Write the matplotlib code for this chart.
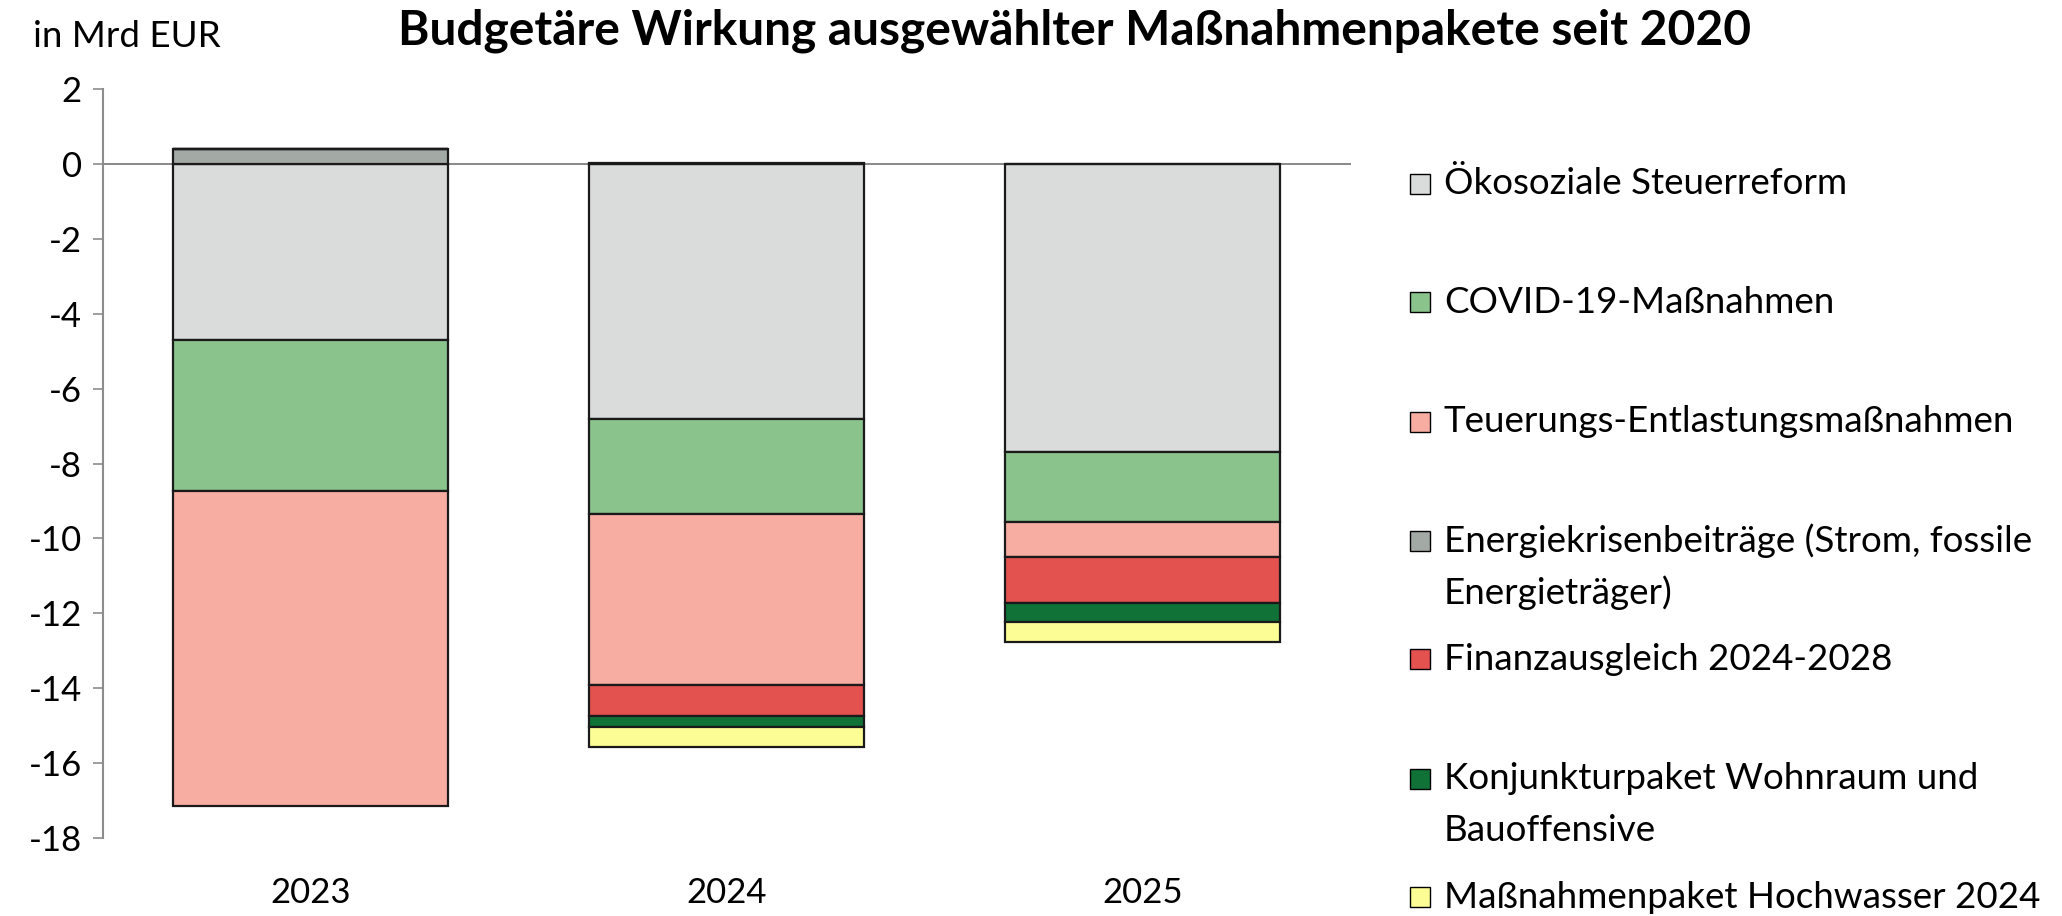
import matplotlib
matplotlib.use("Agg")
import matplotlib.pyplot as plt
from matplotlib.patches import Rectangle
import numpy as np

plt.rcParams['font.family'] = ['Lato', 'DejaVu Sans']

years = ["2023", "2024", "2025"]
series_names = [
    "Ökosoziale Steuerreform",
    "COVID-19-Maßnahmen",
    "Teuerungs-Entlastungsmaßnahmen",
    "Energiekrisenbeiträge (Strom, fossile\nEnergieträger)",
    "Finanzausgleich 2024-2028",
    "Konjunkturpaket Wohnraum und\nBauoffensive",
    "Maßnahmenpaket Hochwasser 2024",
]
oekosozial = [-4.69, -6.80, -7.69]
covid = [-4.05, -2.54, -1.86]
teuerung = [-8.42, -4.59, -0.95]
energiekrise = [0.42, 0.02, 0.0]
finanzausgleich = [0.0, -0.81, -1.24]
konjunktur = [0.0, -0.31, -0.49]
hochwasser = [0.0, -0.53, -0.55]

series = [oekosozial, covid, teuerung, energiekrise, finanzausgleich, konjunktur, hochwasser]
colors = ["#D9DCDB", "#8AC38B", "#F8ADA2", "#A3A9A5", "#E3524F", "#107236", "#FDFD96"]

fig = plt.figure(figsize=(20.62, 9.16), dpi=100)
ax = fig.add_axes([0.0498, 0.0855, 0.6052, 0.8169])

x = np.arange(len(years))
pos_bottom = np.zeros(len(years))
neg_bottom = np.zeros(len(years))
for vals, col in zip(series, colors):
    vals = np.array(vals)
    bottom = np.where(vals >= 0, pos_bottom, neg_bottom)
    ax.bar(x, vals, width=0.66, bottom=bottom, color=col,
           edgecolor="#1a1a1a", linewidth=1.6, zorder=3)
    pos_bottom += np.where(vals >= 0, vals, 0)
    neg_bottom += np.where(vals < 0, vals, 0)

ax.axhline(0, color="#7f7f7f", linewidth=1.3, zorder=2)

ax.set_xlim(-0.5, 2.5)
ax.set_ylim(-18, 2)
ax.set_yticks(np.arange(-18, 3, 2))
ax.set_yticklabels([str(v) for v in range(-18, 3, 2)])
ax.set_xticks(x)
ax.set_xticklabels(years)

for s in ["top", "right", "bottom"]:
    ax.spines[s].set_visible(False)
ax.spines["left"].set_color("#8c8c8c")
ax.spines["left"].set_linewidth(1.5)
ax.tick_params(axis="y", length=7, width=1.2, color="#8c8c8c", pad=8, labelsize=25)
ax.tick_params(axis="x", length=0, pad=28, labelsize=25)

fig.text(0.016, 0.96, "in Mrd EUR", fontsize=26.5, ha="left", va="center")
fig.text(0.521, 0.966, "Budgetäre Wirkung ausgewählter Maßnahmenpakete seit 2020",
         fontsize=34.5, fontweight="bold", ha="center", va="center")

# legend drawn by hand to follow the excel layout
row_y = [184, 302.5, 422, 540.5, 659, 778.5, 897]
line_gap = 52
for name, col, ry in zip(series_names, colors, row_y):
    yf = 1 - ry / 916
    fig.patches.append(Rectangle((1410 / 2062, yf - 10 / 916), 20 / 2062, 20 / 916,
                                 transform=fig.transFigure, facecolor=col,
                                 edgecolor="black", linewidth=1.0))
    for i, line in enumerate(name.split("\n")):
        fig.text(1444 / 2062, 1 - (ry + i * line_gap) / 916, line,
                 fontsize=26.5, ha="left", va="center")

fig.savefig("out.png", dpi=100)
